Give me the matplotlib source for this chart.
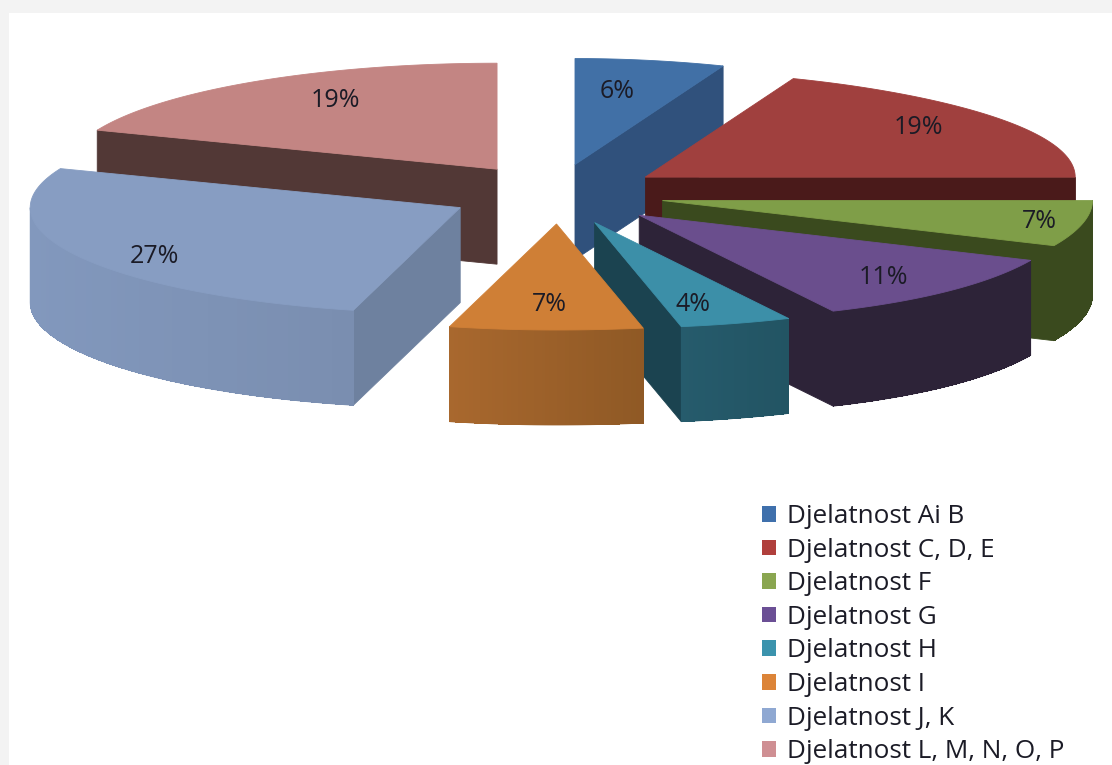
import numpy as np
import matplotlib
matplotlib.use("Agg")
import matplotlib.pyplot as plt
from matplotlib.patches import Polygon, Patch, Rectangle

# ---- data ----
categories = ["Djelatnost Ai B", "Djelatnost C, D, E", "Djelatnost F", "Djelatnost G",
              "Djelatnost H", "Djelatnost I", "Djelatnost J, K", "Djelatnost L, M, N, O, P"]
values = [6, 19, 7, 11, 4, 7, 27, 19]

# ---- styles ----
top_colors = ["#4170a6", "#a0403e", "#7f9e48", "#6a4e8d", "#3c8fa8", "#cf7f36", "#879dc2", "#c38583"]
cut_colors = ["#30517c", "#4a1a1a", "#3a4a1e", "#2d2338", "#1b4350", "#8d5724", "#6e819f", "#523836"]
wall_left = ["#30517c", "#4a1a1a", "#3a4a1e", "#2d2338", "#265b6c", "#a9682e", "#8298bd", "#523836"]
wall_right = ["#30517c", "#4a1a1a", "#3a4a1e", "#2d2338", "#225463", "#8f5925", "#7a8eb0", "#523836"]
legend_colors = ["#3f70ac", "#b03f3c", "#8aa650", "#6b4f95", "#3b93ad", "#dc8438", "#8fa8d2", "#cf8f93"]
label_xy = [(617, 91), (918, 127), (1039, 221), (883, 277), (693, 304), (549, 304), (154, 256), (335, 100)]
explode_x = [80, 103, 105, 112, 112, 112, 112, 112]
draw_order = [0, 7, 1, 2, 6, 3, 4, 5]
CX, CY, RX, RY, EXPL_Y, DEPTH, SKEW = 560, 194, 430, 106, 30, 95, 0.08
FONT = "Open Sans"
TEXT = "#1b1b26"

fig = plt.figure(figsize=(11.12, 7.65), dpi=100, facecolor="#f3f3f3")
ax = fig.add_axes([0, 0, 1, 1])
ax.set_xlim(0, 1112)
ax.set_ylim(765, 0)
ax.axis("off")
ax.add_patch(Rectangle((9, 13), 1112, 765, facecolor="white", edgecolor="none", zorder=0))

fracs = np.array(values, dtype=float) / np.sum(values)
edges = np.concatenate([[0], np.cumsum(fracs)]) * 2 * np.pi


def point(tip, a):
    s, c = np.sin(a), np.cos(a)
    # slight perspective on the right-hand half of the pie
    k = 1 - SKEW * c ** 3 if s > 0 else 1
    return np.array([tip[0] + RX * s * k, tip[1] - RY * c])


def poly(pts, color, z, aa=True, lw=0.6):
    ax.add_patch(Polygon(pts, closed=True, facecolor=color, edgecolor=color if lw else "none",
                         linewidth=lw, zorder=z, antialiased=aa))


def mix(c1, c2, t):
    a, b = np.array(matplotlib.colors.to_rgb(c1)), np.array(matplotlib.colors.to_rgb(c2))
    return a * (1 - t) + b * t


z = 1
for i in draw_order:
    a0, a1 = edges[i], edges[i + 1]
    mid = (a0 + a1) / 2
    tip = np.array([CX + explode_x[i] * np.sin(mid), CY - EXPL_Y * np.cos(mid)])
    inner = point(tip, mid)
    down = np.array([0, DEPTH])
    # radial cut faces: shown only where the slice lies above the edge on screen
    for a in (a0, a1):
        p = point(tip, a)
        if abs(p[0] - tip[0]) < 2:
            continue
        t = (inner[0] - tip[0]) / (p[0] - tip[0])
        if tip[1] + t * (p[1] - tip[1]) > inner[1]:
            poly([tip, p, p + down, tip + down], cut_colors[i], z)
            z += 1
    # outer wall: front half of the rim, full shape then shaded strips
    lo, hi = max(a0, np.pi / 2), min(a1, 3 * np.pi / 2)
    if hi > lo:
        steps = np.linspace(lo, hi, 50)
        rim = [point(tip, a) for a in steps]
        poly(rim + [r + down for r in rim[::-1]], mix(wall_left[i], wall_right[i], 0.5), z)
        z += 1
        xs = [r[0] for r in rim]
        xmin, xmax = min(xs), max(xs)
        for p, q in zip(rim[:-1], rim[1:]):
            t = (p[0] - xmin) / max(xmax - xmin, 1)
            poly([p, q, q + down, p + down], mix(wall_left[i], wall_right[i], t), z, aa=False, lw=0)
        z += 1
    # top surface
    arc = [point(tip, a) for a in np.linspace(a0, a1, 120)]
    poly([tip] + arc, top_colors[i], z)
    z += 1

for v, (x, y) in zip(values, label_xy):
    ax.text(x, y, f"{v}%", ha="center", va="center", fontsize=18, family=FONT, color=TEXT, zorder=100)

handles = [Patch(facecolor=c, edgecolor="none", label=n) for c, n in zip(legend_colors, categories)]
ax.legend(handles=handles, loc="upper left", bbox_to_anchor=(762 / 1112, 1 - 504 / 765),
          frameon=False, prop={"family": FONT, "size": 18.8},
          handlelength=0.55, handleheight=0.55, handletextpad=0.42,
          labelspacing=0.33, borderpad=0, borderaxespad=0, labelcolor=TEXT)

fig.savefig("out.png", dpi=100, facecolor=fig.get_facecolor())
